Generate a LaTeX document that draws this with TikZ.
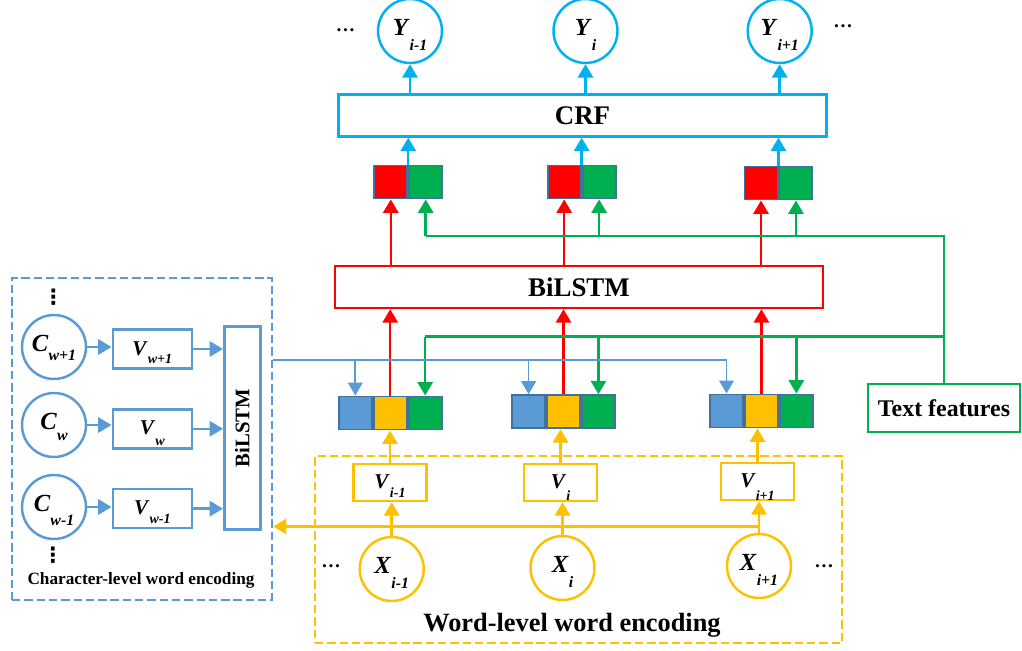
\documentclass[tikz,border=0pt]{standalone}
\usepackage{fontspec}
\setmainfont{Liberation Serif}
\newfontfamily\symfnt{DejaVu Sans}
\usepackage{tikz}
\usetikzlibrary{arrows.meta,positioning,calc}
\definecolor{figsky}{RGB}{0,176,240}
\definecolor{figred}{RGB}{255,0,0}
\definecolor{figgreen}{RGB}{0,176,80}
\definecolor{figgold}{RGB}{255,192,0}
\definecolor{figblue}{RGB}{91,155,213}
\definecolor{figframe}{RGB}{65,113,156}
\newcommand{\cirlab}[3][0.62em]{\textbf{\textit{#2}}\raisebox{-#1}{\fontsize{9}{9}\selectfont\textbf{\textit{#3}}}}
\newcommand{\boxlab}[3][0.4em]{\textbf{\textit{#2}}\raisebox{-#1}{\fontsize{8}{8}\selectfont\textbf{\textit{#3}}}}
\tikzset{
  ln/.style   ={line width=1.4pt},
  circ/.style ={circle, ln, minimum size=1.28cm, inner sep=0pt, text height=11pt, text depth=6.4pt, font=\fontsize{14}{14}\selectfont},
  lay/.style  ={rectangle, ln, inner sep=0pt, font=\fontsize{15.3}{16}\selectfont\bfseries},
  sq/.style   ={rectangle, draw=figframe, line width=1.1pt, minimum size=0.66cm, inner sep=0pt},
  vbox/.style ={rectangle, ln, minimum width=1.46cm, minimum height=0.74cm, inner sep=0pt, text height=9.5pt, text depth=2.5pt, font=\fontsize{12}{12}\selectfont},
  dbox/.style ={rectangle, line width=1.3pt, dash pattern=on 4.8pt off 2.2pt, inner sep=0pt},
  dts/.style  ={inner sep=0pt, font=\fontsize{11}{11}\selectfont\bfseries},
  vdts/.style ={inner sep=0pt, font=\symfnt\bfseries\fontsize{12}{12}\selectfont},
  lab/.style  ={inner sep=1pt, font=\fontsize{15}{16}\selectfont\bfseries},
  labs/.style ={inner sep=1pt, font=\fontsize{9.8}{10}\selectfont\bfseries},
  arr/.style  ={ln, -{Triangle[length=7.6pt,width=8.6pt]}},
  barr/.style ={line width=1pt, draw=figblue, -{Triangle[length=7.4pt,width=8.4pt]}},
}
\begin{document}
\begin{tikzpicture}[x=0.02cm,y=-0.02cm]
  \useasboundingbox (0,0) rectangle (1022,651);
  % frames
  \node[dbox,draw=figgold,minimum width=10.54cm,minimum height=3.74cm] (wbox) at (578.5,549.5) {};
  \node[dbox,draw=figblue,minimum width=5.2cm,minimum height=6.44cm] (cbox) at (142,439) {};
  % outputs
  \node[circ,draw=figsky] (y1) at (410,31) {\cirlab{Y}{i-1}};
  \node[circ,draw=figsky] (y2) at (585.5,31) {\cirlab{Y}{i}};
  \node[circ,draw=figsky] (y3) at (779.7,31) {\cirlab{Y}{i+1}};
  \node[dts] (yl) at (345.5,30) {…};
  \node[dts] (yr) at (843,26) {…};
  \node[lay,draw=figsky,minimum width=9.76cm,minimum height=0.84cm] (crf) at (582.5,115.5) {CRF};
  % BiLSTM outputs
  \node[sq,fill=figred] (r1) at (390.8,182) {};
  \node[sq,fill=figgreen,right=0pt of r1] (g1) {};
  \node[sq,fill=figred] (r2) at (564.2,182) {};
  \node[sq,fill=figgreen,right=0pt of r2] (g2) {};
  \node[sq,fill=figred] (r3) at (761,183) {};
  \node[sq,fill=figgreen,right=0pt of r3] (g3) {};
  \node[lay,draw=figred,minimum width=9.76cm,minimum height=0.84cm] (bil) at (579,287) {BiLSTM};
  % word vectors
  \node[sq,fill=figblue] (tb1) at (355.3,413) {};
  \node[sq,fill=figgold,right=0pt of tb1] (ty1) {};
  \node[sq,fill=figgreen,right=0pt of ty1] (tg1) {};
  \node[sq,fill=figblue] (tb2) at (528.6,411.7) {};
  \node[sq,fill=figgold,right=0pt of tb2] (ty2) {};
  \node[sq,fill=figgreen,right=0pt of ty2] (tg2) {};
  \node[sq,fill=figblue] (tb3) at (726.5,411) {};
  \node[sq,fill=figgold,right=0pt of tb3] (ty3) {};
  \node[sq,fill=figgreen,right=0pt of ty3] (tg3) {};
  % word-level encoding
  \node[vbox,draw=figgold] (v1) at (390,482.5) {\boxlab{V}{i-1}};
  \node[vbox,draw=figgold] (v2) at (560.5,482.5) {\boxlab[0.55em]{V}{i}};
  \node[vbox,draw=figgold] (v3) at (757.5,481.5) {\boxlab[0.6em]{V}{i+1}};
  \node[circ,draw=figgold] (x1) at (391.7,569) {\cirlab{X}{i-1}};
  \node[circ,draw=figgold] (x2) at (562.5,568) {\cirlab{X}{i}};
  \node[circ,draw=figgold] (x3) at (759,566) {\cirlab{X}{i+1}};
  \node[dts] (xl) at (331,566.7) {…};
  \node[dts] (xr) at (824,566.7) {…};
  \node[lab] (wlab) at (572,625) {Word-level word encoding};
  % character-level encoding
  \node[vdts] (cd1) at (53.3,297) {⋮};
  \node[circ,draw=figblue] (c1) at (54,347) {\cirlab[0.4em]{C}{w+1}};
  \node[circ,draw=figblue] (c2) at (54,425) {\cirlab[0.45em]{C}{w}};
  \node[circ,draw=figblue] (c3) at (54,507) {\cirlab[0.6em]{C}{w-1}};
  \node[vdts] (cd2) at (53,555) {⋮};
  \node[vbox,draw=figblue,minimum width=1.58cm,minimum height=0.78cm] (cv1) at (152.3,349) {\boxlab{V}{w+1}};
  \node[vbox,draw=figblue,minimum width=1.58cm,minimum height=0.78cm] (cv2) at (152.3,428.8) {\boxlab[0.5em]{V}{w}};
  \node[vbox,draw=figblue,minimum width=1.58cm,minimum height=0.78cm] (cv3) at (152.3,508.7) {\boxlab{V}{w-1}};
  \node[lay,draw=figblue,rotate=90,minimum width=4.06cm,minimum height=0.72cm,font=\fontsize{11.8}{12}\selectfont\bfseries] (cbl) at (242.3,428) {BiLSTM};
  \node[labs] (clab) at (141,580) {Character-level word encoding};
  % text features
  \node[lay,draw=figgreen,minimum width=3.04cm,minimum height=0.96cm,font=\fontsize{13.6}{14}\selectfont\bfseries] (tf) at (944,408) {Text features};
  % connectors
  \draw[arr,figsky] (y1.south |- crf.north) -- (y1.south);
  \draw[arr,figsky] (y2.south |- crf.north) -- (y2.south);
  \draw[arr,figsky] (y3.south |- crf.north) -- (y3.south);
  \draw[arr,figsky] (r1.north east) -- (r1.north east |- crf.south);
  \draw[arr,figsky] (r2.north east) -- (r2.north east |- crf.south);
  \draw[arr,figsky] (r3.north east) -- (r3.north east |- crf.south);
  \draw[arr,figred] (r1.south |- bil.north) -- (r1.south);
  \draw[arr,figred] (r2.south |- bil.north) -- (r2.south);
  \draw[arr,figred] (r3.south |- bil.north) -- (r3.south);
  \draw[arr,figred] (ty1.north) -- (ty1.north |- bil.south);
  \draw[arr,figred] (ty2.north) -- (ty2.north |- bil.south);
  \draw[arr,figred] (ty3.north) -- (ty3.north |- bil.south);
  \coordinate (gtop) at (tf.north |- 0,236);
  \coordinate (glow) at (tf.north |- 0,336.7);
  \draw[ln,figgreen] (tf.north) -- (gtop) -- (g1.south |- gtop);
  \draw[arr,figgreen] (g1.south |- gtop) -- (g1.south);
  \draw[arr,figgreen] (g2.south |- gtop) -- (g2.south);
  \draw[arr,figgreen] (g3.south |- gtop) -- (g3.south);
  \draw[ln,figgreen] (glow) -- (tg1.north |- glow);
  \draw[arr,figgreen] (tg1.north |- glow) -- (tg1.north);
  \draw[arr,figgreen] (tg2.north |- glow) -- (tg2.north);
  \draw[arr,figgreen] (tg3.north |- glow) -- (tg3.north);
  \coordinate (bstart) at (cbox.east |- 0,360);
  \draw[line width=1pt,figblue] (bstart) -- (tb3.north |- bstart);
  \draw[barr] (tb1.north |- bstart) -- (tb1.north);
  \draw[barr] (tb2.north |- bstart) -- (tb2.north);
  \draw[barr] (tb3.north |- bstart) -- (tb3.north);
  \draw[arr,figgold] (v1.north) -- (v1.north |- ty1.south);
  \draw[arr,figgold] (v2.north) -- (v2.north |- ty2.south);
  \draw[arr,figgold] (v3.north) -- (v3.north |- ty3.south);
  \draw[arr,figgold] (x1.north) -- (x1.north |- v1.south);
  \draw[arr,figgold] (x2.north) -- (x2.north |- v2.south);
  \draw[arr,figgold] (x3.north) -- (x3.north |- v3.south);
  \coordinate (yjoin) at (x3.north |- 0,526.5);
  \draw[arr,figgold] (yjoin) -- (yjoin -| cbox.east);
  \draw[arr,figblue] (c1.east) -- (c1.east -| cv1.west);
  \draw[arr,figblue] (c2.east) -- (c2.east -| cv2.west);
  \draw[arr,figblue] (c3.east) -- (c3.east -| cv3.west);
  \draw[arr,figblue] (cv1.east) -- (cv1.east -| cbl.north);
  \draw[arr,figblue] (cv2.east) -- (cv2.east -| cbl.north);
  \draw[arr,figblue] (cv3.east) -- (cv3.east -| cbl.north);
\end{tikzpicture}
\end{document}
